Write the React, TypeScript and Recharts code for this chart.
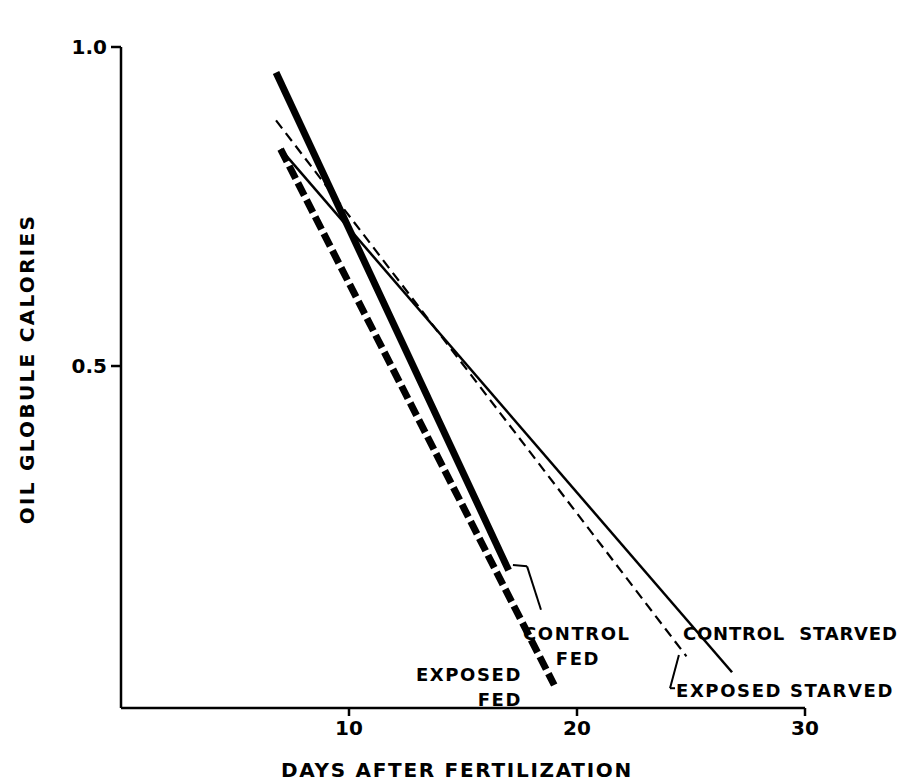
import { LineChart, Line, XAxis, YAxis, ReferenceLine, Customized } from "recharts";

// days after fertilization / oil globule calories
const controlFedDays = [6.8, 17];
const controlFedCal = [0.96, 0.18];
const exposedFedDays = [7, 19];
const exposedFedCal = [0.84, 0.0];
const controlStarvedDays = [7, 26.8];
const controlStarvedCal = [0.84, 0.02];
const exposedStarvedDays = [6.8, 24.8];
const exposedStarvedCal = [0.885, 0.045];

const xTicks = [10, 20, 30];
const yTicks = [0.5, 1.0];

const toRows = (days: number[], cal: number[]) =>
  days.map((d, i) => ({ day: d, cal: cal[i] }));

const FONT = "'DejaVu Sans', sans-serif";

const txt = (x: number, y: number, s: string, anchor: "start" | "middle" | "end" = "start", ls = 1.6) => (
  <text
    key={s + x + y}
    x={x}
    y={y}
    textAnchor={anchor}
    fontFamily={FONT}
    fontWeight="bold"
    fontSize={18}
    letterSpacing={ls}
    fill="#000"
  >
    {s}
  </text>
);

function Annotations() {
  return (
    <g>
      {txt(515, 632, "CONTROL")}
      {txt(570, 657, "FED", "middle")}
      {txt(514, 673, "EXPOSED", "end")}
      {txt(514, 698, "FED", "end")}
      {txt(675, 632, "CONTROL\u00A0 STARVED", "start", 0.8)}
      {txt(668, 689, "EXPOSED STARVED")}
      <text
        x={0}
        y={0}
        transform="translate(26, 361) rotate(-90)"
        textAnchor="middle"
        fontFamily={FONT}
        fontWeight="bold"
        fontSize={20}
        letterSpacing={2.3}
      >
        OIL GLOBULE CALORIES
      </text>
      <text
        x={449}
        y={769}
        textAnchor="middle"
        fontFamily={FONT}
        fontWeight="bold"
        fontSize={20}
        letterSpacing={1.7}
      >
        DAYS AFTER FERTILIZATION
      </text>
    </g>
  );
}

export default function App() {
  const tickStyle = { fontFamily: FONT, fontWeight: "bold", fontSize: 20, fill: "#000" };
  return (
    <LineChart
      width={900}
      height={775}
      margin={{ top: 39, right: 103, bottom: 45, left: 53 }}
    >
      <XAxis
        type="number"
        dataKey="day"
        domain={[0, 30]}
        ticks={xTicks}
        allowDataOverflow
        stroke="#000"
        strokeWidth={2.5}
        tickSize={8}
        tick={tickStyle}
        tickMargin={5}
        height={30}
      />
      <YAxis
        type="number"
        dataKey="cal"
        domain={[-0.036, 1.0]}
        ticks={yTicks}
        allowDataOverflow
        stroke="#000"
        strokeWidth={2.5}
        tickSize={10}
        tick={tickStyle}
        tickMargin={4}
        width={60}
        tickFormatter={(v: number) => v.toFixed(1)}
      />
      <Line
        data={toRows(controlStarvedDays, controlStarvedCal)}
        dataKey="cal"
        stroke="#000"
        strokeWidth={2.5}
        dot={false}
        isAnimationActive={false}
      />
      <Line
        data={toRows(exposedStarvedDays, exposedStarvedCal)}
        dataKey="cal"
        stroke="#000"
        strokeWidth={2.2}
        strokeDasharray="10 6"
        dot={false}
        isAnimationActive={false}
      />
      <Line
        data={toRows(exposedFedDays, exposedFedCal)}
        dataKey="cal"
        stroke="#000"
        strokeWidth={7}
        strokeDasharray="14 5"
        dot={false}
        isAnimationActive={false}
      />
      <Line
        data={toRows(controlFedDays, controlFedCal)}
        dataKey="cal"
        stroke="#000"
        strokeWidth={7}
        dot={false}
        isAnimationActive={false}
      />
      {/* leader lines */}
      <ReferenceLine
        segment={[{ x: 17.19, y: 0.188 }, { x: 17.81, y: 0.186 }]}
        stroke="#000"
        strokeWidth={2}
        ifOverflow="visible"
      />
      <ReferenceLine
        segment={[{ x: 17.81, y: 0.186 }, { x: 18.42, y: 0.118 }]}
        stroke="#000"
        strokeWidth={2}
        ifOverflow="visible"
      />
      <ReferenceLine
        segment={[{ x: 24.47, y: 0.047 }, { x: 24.08, y: -0.005 }]}
        stroke="#000"
        strokeWidth={2}
        ifOverflow="visible"
      />
      <ReferenceLine
        segment={[{ x: 24.08, y: -0.005 }, { x: 24.3, y: -0.005 }]}
        stroke="#000"
        strokeWidth={2}
        ifOverflow="visible"
      />
      <Customized component={Annotations} />
    </LineChart>
  );
}
